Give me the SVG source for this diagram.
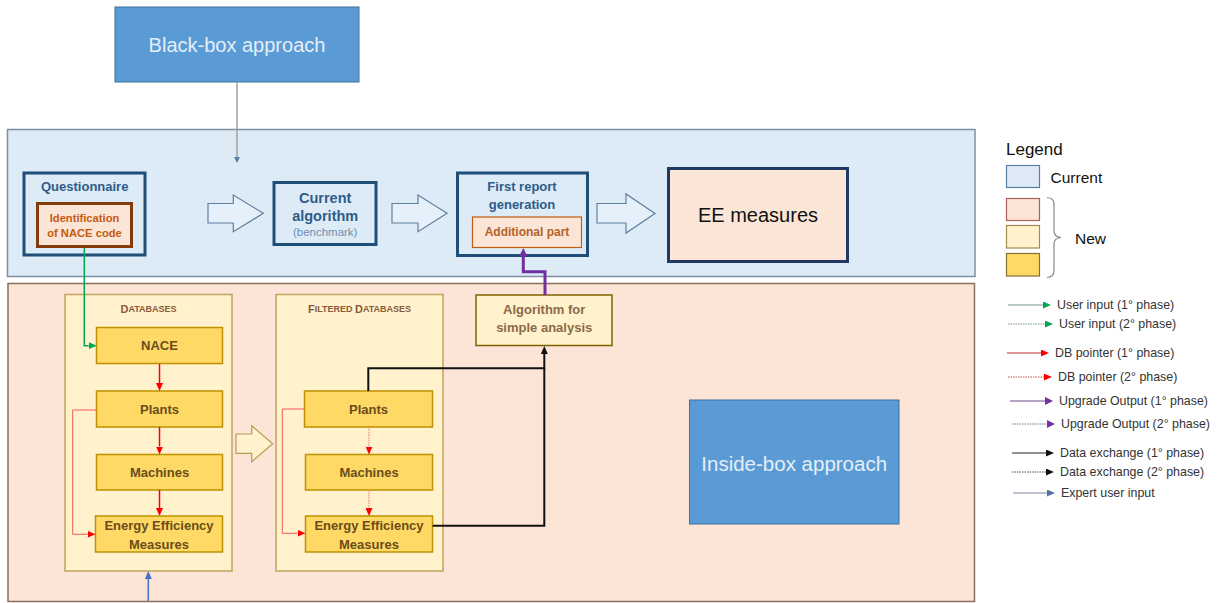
<svg xmlns="http://www.w3.org/2000/svg" width="1217" height="603" viewBox="0 0 1217 603">
<defs>
<style>
text{font-family:"Liberation Sans",Arial,sans-serif;dominant-baseline:central;text-anchor:middle}
.b{font-weight:bold}
.navy{fill:#2e5c8a}
.blue-box{fill:#ddebf7;stroke:#1f4e79;stroke-width:3}
.gold{fill:#ffd966;stroke:#bf9000;stroke-width:1.5}
.cont{fill:#fff2cc;stroke:#bfa35f;stroke-width:1.5}
.goldtxt{fill:#6b4c1a;font-weight:bold;font-size:13px}
.hollow{fill:#e6f0fa;stroke:#5f7f9f;stroke-width:1.2}
.lg{text-anchor:start;font-size:12.4px;fill:#333}
.conn{fill:none}
</style>
<marker id="mGreen" markerUnits="userSpaceOnUse" markerWidth="8" markerHeight="7" refX="0" refY="3.5" orient="auto"><path d="M0,0 L8,3.5 L0,7 z" fill="#00a651"/></marker>
<marker id="mRed" markerUnits="userSpaceOnUse" markerWidth="8" markerHeight="7" refX="0" refY="3.5" orient="auto"><path d="M0,0 L8,3.5 L0,7 z" fill="#ff0000"/></marker>
<marker id="mPurple" markerUnits="userSpaceOnUse" markerWidth="8" markerHeight="8" refX="0" refY="4" orient="auto"><path d="M0,0 L8,4 L0,8 z" fill="#7030a0"/></marker>
<marker id="mBlack" markerUnits="userSpaceOnUse" markerWidth="8" markerHeight="7" refX="0" refY="3.5" orient="auto"><path d="M0,0 L8,3.5 L0,7 z" fill="#111"/></marker>
<marker id="mBlue" markerUnits="userSpaceOnUse" markerWidth="8" markerHeight="7" refX="0" refY="3.5" orient="auto"><path d="M0,0 L8,3.5 L0,7 z" fill="#4472c4"/></marker>
<marker id="mGray" markerUnits="userSpaceOnUse" markerWidth="6" markerHeight="6" refX="0" refY="3" orient="auto"><path d="M0,0 L6,3 L0,6 z" fill="#5a7fa8"/></marker>
<marker id="mExpert" markerUnits="userSpaceOnUse" markerWidth="8" markerHeight="7" refX="0" refY="3.5" orient="auto"><path d="M0,0 L8,3.5 L0,7 z" fill="#5470a8"/></marker>
</defs>

<g id="regions">
<rect id="current-region" x="7.5" y="129.5" width="967.5" height="147" fill="#ddebf7" stroke="#7f8fa0" stroke-width="1.5"/>
<rect id="new-region" x="8" y="283.5" width="966.5" height="318" fill="#fce4d6" stroke="#8b6f5f" stroke-width="1.5"/>
</g>

<g id="black-box">
<rect x="115" y="7" width="244" height="75" fill="#5b9bd5" stroke="#41719c" stroke-width="1"/>
<text x="237" y="45" font-size="20" fill="#e3eef9">Black-box approach</text>
</g>

<g id="questionnaire">
<rect class="blue-box" x="24" y="173" width="121" height="82"/>
<text class="b navy" x="84.7" y="186" font-size="13">Questionnaire</text>
</g>
<g id="nace-identification">
<rect x="37.5" y="203.5" width="94" height="43" fill="#fbe5d6" stroke="#843c0c" stroke-width="3"/>
<text class="b" x="84.5" y="217.5" font-size="11.2" fill="#c55a11">Identification</text>
<text class="b" x="84.5" y="232.5" font-size="11.2" fill="#c55a11">of NACE code</text>
</g>

<g id="arrow-1"><polygon class="hollow" points="208,203.5 233.3,203.5 233.3,195 263.3,213.3 233.3,231.7 233.3,223 208,223"/></g>

<g id="current-algorithm">
<rect class="blue-box" x="274" y="182.5" width="102" height="62"/>
<text class="b navy" x="325.2" y="197.5" font-size="14.5">Current</text>
<text class="b navy" x="325.2" y="215.5" font-size="14.5">algorithm</text>
<text x="325.2" y="232.3" font-size="11.5" fill="#6f8fb0">(benchmark)</text>
</g>

<g id="arrow-2"><polygon class="hollow" points="392,203.5 418,203.5 418,195 447,213.3 418,231.7 418,223 392,223"/></g>

<g id="first-report">
<rect class="blue-box" x="457.5" y="173" width="130" height="82.5"/>
<text class="b navy" x="522" y="186.5" font-size="13">First report</text>
<text class="b navy" x="522" y="204" font-size="13">generation</text>
</g>
<g id="additional-part">
<rect x="472.5" y="217" width="109" height="30.5" fill="#fbe5d6" stroke="#c55a11" stroke-width="1.2"/>
<text class="b" x="527" y="232" font-size="12" fill="#b4622a">Additional part</text>
</g>

<g id="arrow-3"><polygon class="hollow" points="597,203.5 626,203.5 626,194 655,213.5 626,233 626,223 597,223"/></g>

<g id="ee-measures">
<rect x="668.5" y="168.5" width="179" height="93" fill="#fbe5d6" stroke="#1f3864" stroke-width="3"/>
<text x="758" y="214.5" font-size="20" fill="#111">EE measures</text>
</g>

<g id="databases">
<rect class="cont" x="65" y="294.5" width="167" height="276.5"/>
<text class="b" x="148.5" y="309" fill="#8a5a3a"><tspan font-size="11">D</tspan><tspan font-size="9">ATABASES</tspan></text>
</g>
<g id="db-nace"><rect class="gold" x="96.5" y="327.5" width="126" height="36"/><text class="goldtxt" x="159.5" y="345.5">NACE</text></g>
<g id="db-plants"><rect class="gold" x="96.5" y="391" width="126" height="36"/><text class="goldtxt" x="159.5" y="409">Plants</text></g>
<g id="db-machines"><rect class="gold" x="96.5" y="454.5" width="126" height="35.5"/><text class="goldtxt" x="159.5" y="472.3">Machines</text></g>
<g id="db-eem"><rect class="gold" x="95.5" y="516" width="127" height="36"/><text class="goldtxt" x="159" y="525.7">Energy Efficiency</text><text class="goldtxt" x="159" y="544">Measures</text></g>

<g id="arrow-4"><polygon points="236,434 251.7,434 251.7,425.7 272.7,443.7 251.7,461.7 251.7,453.3 236,453.3" fill="#fff2cc" stroke="#b49c5a" stroke-width="1.2"/></g>

<g id="filtered-databases">
<rect class="cont" x="276" y="294.5" width="167" height="276.5"/>
<text class="b" x="359.5" y="309" fill="#8a5a3a"><tspan font-size="11">F</tspan><tspan font-size="9">ILTERED </tspan><tspan font-size="11">D</tspan><tspan font-size="9">ATABASES</tspan></text>
</g>
<g id="fdb-plants"><rect class="gold" x="304.5" y="391" width="128" height="36"/><text class="goldtxt" x="368.5" y="409">Plants</text></g>
<g id="fdb-machines"><rect class="gold" x="305.5" y="454.5" width="127" height="35.5"/><text class="goldtxt" x="369" y="472.3">Machines</text></g>
<g id="fdb-eem"><rect class="gold" x="305.5" y="516" width="127" height="36"/><text class="goldtxt" x="369" y="525.7">Energy Efficiency</text><text class="goldtxt" x="369" y="544">Measures</text></g>

<g id="algorithm-simple">
<rect x="476" y="295" width="136" height="50.5" fill="#fff2cc" stroke="#7f6000" stroke-width="1.5"/>
<text class="b" x="544.2" y="309.5" font-size="13" fill="#8b6a46">Algorithm for</text>
<text class="b" x="544.2" y="327.5" font-size="13" fill="#8b6a46">simple analysis</text>
</g>

<g id="inside-box">
<rect x="689.5" y="400" width="209.5" height="124" fill="#5b9bd5" stroke="#41719c" stroke-width="1"/>
<text x="794.2" y="463.3" font-size="20.5" fill="#e3eef9">Inside-box approach</text>
</g>

<g id="connectors" class="conn">
<path d="M237,82 V157" stroke="#a0a0a0" stroke-width="1.5" marker-end="url(#mGray)"/>
<path d="M84.3,248 V345.7 H88.7" stroke="#00a651" stroke-width="1.5" marker-end="url(#mGreen)"/>
<path d="M159.5,364 V383" stroke="#ff0000" stroke-width="1.5" marker-end="url(#mRed)"/>
<path d="M159.5,427 V446.5" stroke="#ff0000" stroke-width="1.5" marker-end="url(#mRed)"/>
<path d="M159.5,490 V508" stroke="#ff0000" stroke-width="1.5" marker-end="url(#mRed)"/>
<path d="M96.5,410 H72.7 V534.3 H87.5" stroke="#f05a5a" stroke-width="1" marker-end="url(#mRed)"/>
<path d="M369,427 V446.5" stroke="#f07070" stroke-width="1" stroke-dasharray="1.5 1" marker-end="url(#mRed)"/>
<path d="M369,490 V508" stroke="#f07070" stroke-width="1" stroke-dasharray="1.5 1" marker-end="url(#mRed)"/>
<path d="M304.5,409 H282.3 V533.3 H297.5" stroke="#f05a5a" stroke-width="1" marker-end="url(#mRed)"/>
<path d="M368.3,391 V368.3 H544.3 V354" stroke="#111" stroke-width="2" marker-end="url(#mBlack)"/>
<path d="M432.7,525.7 H544.3 V368.3" stroke="#111" stroke-width="2"/>
<path d="M545,295 V271.7 H523.3 V256" stroke="#7030a0" stroke-width="3" marker-end="url(#mPurple)"/>
<path d="M148.3,601 V579" stroke="#4472c4" stroke-width="1.5" marker-end="url(#mBlue)"/>
</g>

<g id="legend">
<text x="1006" y="149" font-size="17" fill="#111" style="text-anchor:start">Legend</text>
<rect x="1006.5" y="165.5" width="33" height="22" fill="#deebf7" stroke="#5b7fa0" stroke-width="1.2"/>
<text x="1050.5" y="177" font-size="15.5" fill="#111" style="text-anchor:start">Current</text>
<rect x="1006.5" y="198.5" width="33" height="22" fill="#fbe5d6" stroke="#b0605a" stroke-width="1.2"/>
<rect x="1006.5" y="225.5" width="33" height="22.5" fill="#fff2cc" stroke="#a08a50" stroke-width="1.2"/>
<rect x="1006.5" y="253.5" width="33" height="22.5" fill="#ffd966" stroke="#8a7030" stroke-width="1.2"/>
<path d="M1047,197.5 Q1054,198 1054,204 V231 Q1054,237 1061,237.5 Q1054,238 1054,244 V271 Q1054,277 1047,277.5" fill="none" stroke="#888" stroke-width="1.2"/>
<text x="1075" y="238.5" font-size="15.5" fill="#111" style="text-anchor:start">New</text>

<path d="M1008,305 H1043" stroke="#7a9a8a" stroke-width="1.2" marker-end="url(#mGreen)"/>
<text class="lg" x="1057" y="305">User input (1° phase)</text>
<path d="M1008,324 H1045" stroke="#7a9a8a" stroke-width="1" stroke-dasharray="1.5 1" marker-end="url(#mGreen)"/>
<text class="lg" x="1059" y="324">User input (2° phase)</text>
<path d="M1007,353 H1041" stroke="#c03030" stroke-width="1.2" marker-end="url(#mRed)"/>
<text class="lg" x="1055" y="353">DB pointer (1° phase)</text>
<path d="M1008,377 H1044" stroke="#c05050" stroke-width="1" stroke-dasharray="1.5 1" marker-end="url(#mRed)"/>
<text class="lg" x="1058" y="377">DB pointer (2° phase)</text>
<path d="M1010,401 H1045" stroke="#6a4a8a" stroke-width="1.2" marker-end="url(#mPurple)"/>
<text class="lg" x="1059" y="401">Upgrade Output (1° phase)</text>
<path d="M1012,424 H1047" stroke="#7a6a9a" stroke-width="1" stroke-dasharray="1.5 1" marker-end="url(#mPurple)"/>
<text class="lg" x="1061" y="424">Upgrade Output (2° phase)</text>
<path d="M1012,453 H1046" stroke="#222" stroke-width="1.2" marker-end="url(#mBlack)"/>
<text class="lg" x="1060" y="453">Data exchange (1° phase)</text>
<path d="M1012,472 H1046" stroke="#555" stroke-width="1" stroke-dasharray="1.5 1" marker-end="url(#mBlack)"/>
<text class="lg" x="1060" y="472">Data exchange (2° phase)</text>
<path d="M1013,493 H1047" stroke="#7f8aa0" stroke-width="1.2" marker-end="url(#mExpert)"/>
<text class="lg" x="1061" y="493">Expert user input</text>
</g>
</svg>
